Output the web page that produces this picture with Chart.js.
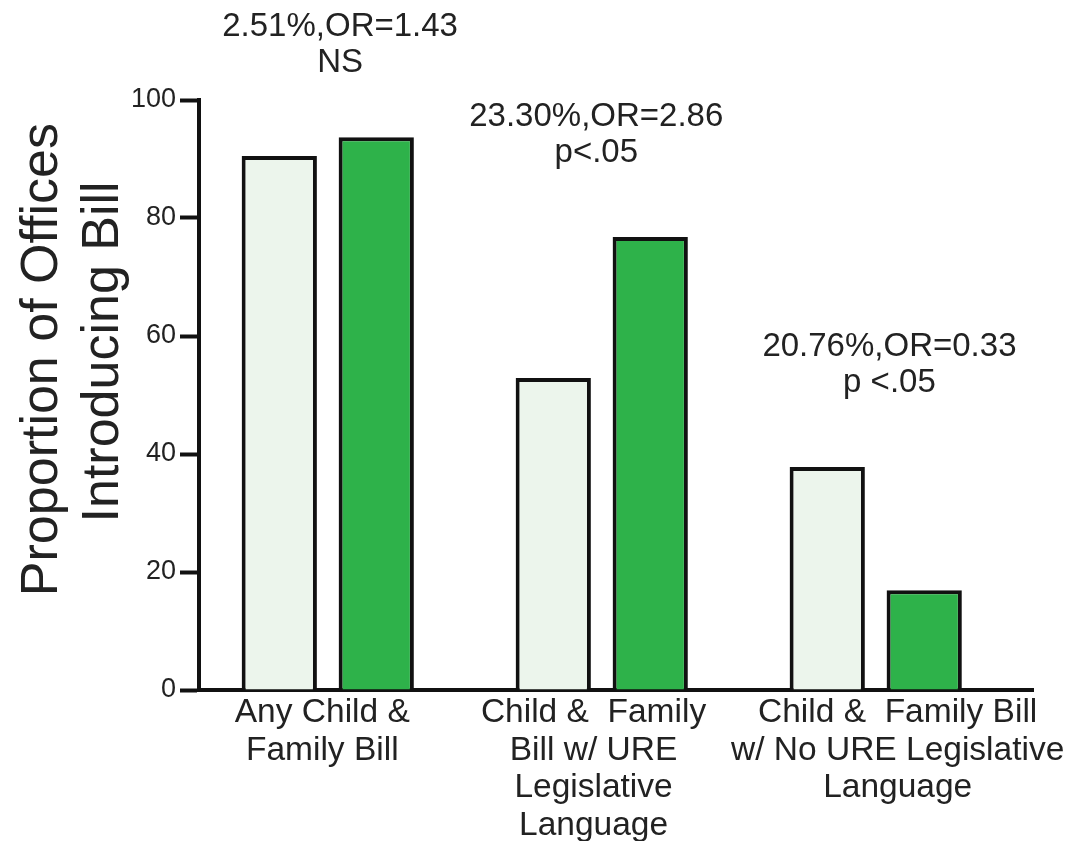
<!DOCTYPE html>
<html>
<head>
<meta charset="utf-8">
<title>Proportion of Offices Introducing Bill</title>
<script src="https://cdn.jsdelivr.net/npm/chart.js@4.4.1/dist/chart.umd.min.js"></script>
<style>
  html, body { margin: 0; padding: 0; background: #ffffff; }
  #wrap { width: 1069px; height: 841px; }
  canvas { display: block; }
</style>
</head>
<body>
<div id="wrap"><canvas id="chart" width="1069" height="841"></canvas></div>
<script>
// Bill categories (one group per category) and their wrapped axis labels
const categories = [
  'Any Child & Family Bill',
  'Child & Family Bill w/ URE Legislative Language',
  'Child & Family Bill w/ No URE Legislative Language'
];
const categoryLines = [
  ['Any Child &', 'Family Bill'],
  ['Child &  Family', 'Bill w/ URE', 'Legislative', 'Language'],
  ['Child &  Family Bill', 'w/ No URE Legislative', 'Language']
];

// Proportion of offices introducing each kind of bill (%)
const comparisonValues = [90.5, 52.9, 37.8];
const focusValues = [93.7, 76.8, 16.9];

// Statistics printed above each group
const groupNotes = [
  ['2.51%,OR=1.43', 'NS'],
  ['23.30%,OR=2.86', 'p<.05'],
  ['20.76%,OR=0.33', 'p <.05']
];

// Value axis
const yMin = 0;
const yMax = 100;
const yStep = 20;
const yTitle = ['Proportion of Offices', 'Introducing Bill'];

// Layout: where group labels and notes sit along the axes
const labelAt = [-0.02, 0.97, 2.08];
const noteAt = [[0.045, 112.4], [0.98, 97.2], [2.05, 58.1]];

const TEXT = '#222222';
const INK = '#111111';
const FONT = "'Liberation Sans', Arial, Helvetica, sans-serif";

const toPoints = vals => vals.map((v, i) => ({ x: i, y: v }));

// Rotated two-line title beside the value axis
const yTitlePlugin = {
  id: 'yTitle',
  afterDraw(chart) {
    const ctx = chart.ctx;
    const ys = chart.scales.y;
    ctx.save();
    ctx.fillStyle = TEXT;
    ctx.font = '52px ' + FONT;
    ctx.textAlign = 'center';
    ctx.textBaseline = 'alphabetic';
    const baselines = [57, 118];
    const centres = [ys.getPixelForValue(56), ys.getPixelForValue(57.3)];
    yTitle.forEach((line, i) => {
      ctx.save();
      ctx.translate(baselines[i], centres[i]);
      ctx.rotate(-Math.PI / 2);
      ctx.fillText(line, 0, 0);
      ctx.restore();
    });
    ctx.restore();
  }
};

// Odds-ratio notes above each group
const notesPlugin = {
  id: 'groupNotes',
  afterDraw(chart) {
    const ctx = chart.ctx;
    const xs = chart.scales.x;
    const ys = chart.scales.y;
    ctx.save();
    ctx.fillStyle = TEXT;
    ctx.font = '33px ' + FONT;
    ctx.textAlign = 'center';
    ctx.textBaseline = 'middle';
    groupNotes.forEach((lines, i) => {
      const px = xs.getPixelForValue(noteAt[i][0]);
      const py = ys.getPixelForValue(noteAt[i][1]);
      lines.forEach((t, j) => ctx.fillText(t, px, py + j * 36));
    });
    ctx.restore();
  }
};

new Chart(document.getElementById('chart'), {
  type: 'bar',
  data: {
    datasets: [
      {
        label: 'Comparison',
        data: toPoints(comparisonValues),
        backgroundColor: '#ecf5ec',
        borderColor: INK,
        borderWidth: 4
      },
      {
        label: 'Focus',
        data: toPoints(focusValues),
        backgroundColor: '#2eb24a',
        borderColor: INK,
        borderWidth: 4
      }
    ]
  },
  options: {
    responsive: false,
    animation: false,
    events: [],
    categoryPercentage: 0.715,
    barPercentage: 0.776,
    layout: { padding: { left: 0, top: 100, right: 36, bottom: 0 } },
    plugins: {
      legend: { display: false },
      tooltip: { enabled: false },
      title: { display: false }
    },
    scales: {
      x: {
        type: 'linear',
        offset: false,
        bounds: 'data',
        min: -0.47,
        max: 2.574,
        afterBuildTicks(scale) {
          scale.ticks = labelAt.map(v => ({ value: v }));
        },
        afterFit(scale) {
          scale.height = 151;
          // long wrapped labels may run past the axis end; keep the plot width fixed
          scale.paddingLeft = 0;
          scale.paddingRight = 0;
        },
        grid: { display: false, drawTicks: false, offset: false },
        border: { display: true, color: INK, width: 4 },
        ticks: {
          autoSkip: false,
          maxRotation: 0,
          minRotation: 0,
          padding: 4,
          color: TEXT,
          font: { family: FONT, size: 33.5, lineHeight: 1.12 },
          callback: (value, index) => categoryLines[index]
        }
      },
      y: {
        min: yMin,
        max: yMax,
        afterFit(scale) { scale.width = 199; },
        grid: {
          display: true,
          drawOnChartArea: false,
          drawTicks: true,
          tickLength: 19,
          tickWidth: 4,
          tickColor: INK
        },
        border: { display: true, color: INK, width: 4 },
        ticks: {
          stepSize: yStep,
          padding: 4,
          color: TEXT,
          font: { family: FONT, size: 27 }
        }
      }
    }
  },
  plugins: [yTitlePlugin, notesPlugin]
});
</script>
</body>
</html>
